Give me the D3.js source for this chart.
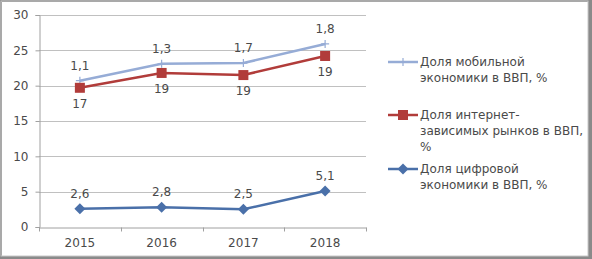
<!DOCTYPE html>
<html>
<head>
<meta charset="utf-8">
<script src="https://cdn.jsdelivr.net/npm/d3@7"></script>
<style>
  body { margin: 0; background: #fff; }
  svg text { font-family: "DejaVu Sans", sans-serif; fill: #4a4a4a; }
</style>
</head>
<body>
<div id="chart"></div>
<script>
// data
var years = ["2015", "2016", "2017", "2018"];
var mobileShare = [20.7, 23.1, 23.2, 25.9];
var mobileLabels = ["1,1", "1,3", "1,7", "1,8"];
var internetShare = [19.7, 21.8, 21.5, 24.2];
var internetLabels = ["17", "19", "19", "19"];
var digitalShare = [2.6, 2.8, 2.5, 5.1];
var digitalLabels = ["2,6", "2,8", "2,5", "5,1"];
var yTicks = [0, 5, 10, 15, 20, 25, 30];

var series = [
    { name: ["Доля мобильной", "экономики в ВВП, %"], values: mobileShare, labels: mobileLabels,
      color: "#96acd6", marker: "plus", labelPos: "above", legendY: 62 },
    { name: ["Доля интернет-", "зависимых рынков в ВВП,", "%"], values: internetShare, labels: internetLabels,
      color: "#b13c3a", marker: "square", labelPos: "below", legendY: 115 },
    { name: ["Доля цифровой", "экономики в ВВП, %"], values: digitalShare, labels: digitalLabels,
      color: "#4a70a9", marker: "diamond", labelPos: "above", legendY: 169 }
];

var W = 592, H = 259;
var margin = { top: 15, left: 39, right: 226, bottom: 32 };
var width = W - margin.left - margin.right,
    height = H - margin.top - margin.bottom;

var svg = d3.select("#chart").append("svg")
    .attr("width", W)
    .attr("height", H);

// outer frame with shadow
svg.append("rect").attr("x", 0).attr("y", 0).attr("width", W).attr("height", H).attr("fill", "#8a8a8a");
svg.append("rect").attr("x", 2).attr("y", 2).attr("width", W - 6).attr("height", H - 5).attr("fill", "#fff");
svg.append("rect").attr("x", 1).attr("y", 1).attr("width", W - 5).attr("height", H - 4)
    .attr("fill", "none").attr("stroke", "#c8c8c8").attr("stroke-width", 1);

var g = svg.append("g")
    .attr("transform", "translate(" + margin.left + "," + margin.top + ")");

var x = d3.scaleBand().domain(years).range([0, width]);
var y = d3.scaleLinear().domain([0, 30]).range([height, 0]);

// gridlines
g.selectAll("line.grid")
    .data(yTicks.filter(function(d) { return d > 0; }))
    .enter().append("line")
    .attr("class", "grid")
    .attr("x1", 0).attr("x2", width)
    .attr("y1", function(d) { return Math.round(y(d)) + 0.5; })
    .attr("y2", function(d) { return Math.round(y(d)) + 0.5; })
    .attr("stroke", "#c0c0c0");

var yAxis = d3.axisLeft(y).tickValues(yTicks).tickSize(4).tickPadding(7);
var ya = g.append("g").attr("class", "y-axis").attr("transform", "translate(0.5,0)").call(yAxis);
ya.select(".domain").attr("stroke", "#a0a0a0");
ya.selectAll(".tick line").attr("stroke", "#a0a0a0");
ya.selectAll("text").style("font-size", "12px");

var xAxis = d3.axisBottom(x).tickSize(0).tickPadding(11);
var xa = g.append("g").attr("class", "x-axis")
    .attr("transform", "translate(0," + (Math.round(height) + 0.5) + ")").call(xAxis);
xa.select(".domain").attr("stroke", "#a0a0a0");
xa.selectAll("text").style("font-size", "12px");
// category separator ticks
xa.selectAll("line.sep")
    .data(d3.range(years.length + 1))
    .enter().append("line")
    .attr("class", "sep")
    .attr("x1", function(i) { return Math.round(i * x.step()) + 0.5; })
    .attr("x2", function(i) { return Math.round(i * x.step()) + 0.5; })
    .attr("y1", 0).attr("y2", 4)
    .attr("stroke", "#a0a0a0");

var line = d3.line()
    .x(function(d, i) { return x(years[i]) + x.bandwidth() / 2; })
    .y(function(d) { return y(d); });

function drawMarker(sel, type, color) {
    if (type === "square") {
        sel.append("rect").attr("x", -5).attr("y", -5).attr("width", 10).attr("height", 10)
            .attr("fill", color);
    } else if (type === "diamond") {
        sel.append("path").attr("d", "M0,-5.5L5.5,0L0,5.5L-5.5,0Z").attr("fill", color);
    } else {
        sel.append("path").attr("d", "M-4,0H4M0,-4V4").attr("stroke", color).attr("stroke-width", 1.2);
    }
}

series.forEach(function(s) {
    g.append("path")
        .datum(s.values)
        .attr("d", line)
        .attr("fill", "none")
        .attr("stroke", s.color)
        .attr("stroke-width", 2.5);

    var pts = g.selectAll(null)
        .data(s.values)
        .enter().append("g")
        .attr("transform", function(d, i) {
            return "translate(" + (x(years[i]) + x.bandwidth() / 2) + "," + y(d) + ")";
        });
    drawMarker(pts, s.marker, s.color);

    g.selectAll(null)
        .data(s.values)
        .enter().append("text")
        .attr("x", function(d, i) { return x(years[i]) + x.bandwidth() / 2; })
        .attr("y", function(d) { return s.labelPos === "above" ? y(d) - 11 : y(d) + 20; })
        .attr("text-anchor", "middle")
        .style("font-size", "12px")
        .text(function(d, i) { return s.labels[i]; });

    // legend
    var lg = svg.append("g").attr("transform", "translate(388," + s.legendY + ")");
    lg.append("line").attr("x1", 0).attr("x2", 30).attr("y1", 0).attr("y2", 0)
        .attr("stroke", s.color).attr("stroke-width", 2.5);
    drawMarker(lg.append("g").attr("transform", "translate(15,0)"), s.marker, s.color);
    lg.selectAll("text")
        .data(s.name)
        .enter().append("text")
        .attr("x", 32)
        .attr("y", function(d, i) { return 4 + i * 16; })
        .style("font-size", "12px")
        .text(function(d) { return d; });
});
</script>
</body>
</html>
